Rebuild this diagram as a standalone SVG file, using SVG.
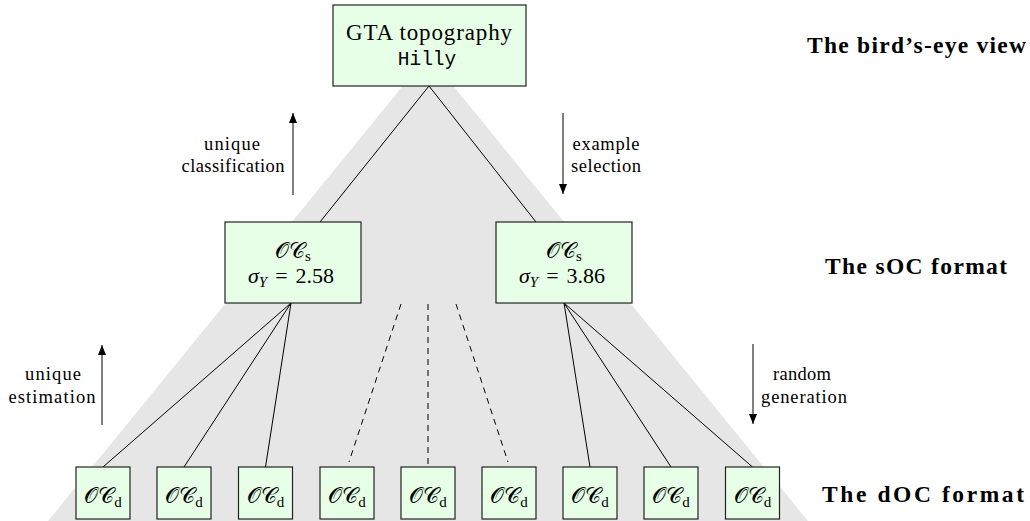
<svg xmlns="http://www.w3.org/2000/svg" width="1030" height="521" viewBox="0 0 1030 521">
<style>
.box{fill:#e6ffe6;stroke:#222;stroke-width:1.2}
.ln{stroke:#000;stroke-width:1;fill:none}
.dash{stroke:#000;stroke-width:1;fill:none;stroke-dasharray:6,5}
.lab{font-size:18.5px;text-anchor:middle;fill:#000}
.head{font-size:23.5px;font-weight:bold;fill:#000}
.m{font-size:22px;text-anchor:middle;fill:#000}
.mi{font-style:italic}
.sub{font-size:15px}
</style>
<defs>
<marker id="ah" viewBox="0 0 10 8" refX="10" refY="4" markerWidth="10" markerHeight="8" markerUnits="userSpaceOnUse" orient="auto">
<path d="M0,0 L10,4 L0,8 Z" fill="#000"/>
</marker>
</defs>
<polygon points="428,55 44,526 812,526" fill="#e6e6e6"/>
<g id="connectors">
<line class="ln" x1="429" y1="86" x2="320" y2="222"/>
<line class="ln" x1="429" y1="86" x2="536" y2="222"/>
<line class="ln" x1="291" y1="303" x2="103" y2="467"/>
<line class="ln" x1="291" y1="303" x2="184" y2="467"/>
<line class="ln" x1="291" y1="303" x2="265.5" y2="467"/>
<line class="dash" x1="401" y1="304" x2="349" y2="462"/>
<line class="dash" x1="428" y1="304" x2="428" y2="466"/>
<line class="dash" x1="456" y1="304" x2="508" y2="462"/>
<line class="ln" x1="564" y1="303" x2="590" y2="467"/>
<line class="ln" x1="564" y1="303" x2="671" y2="467"/>
<line class="ln" x1="564" y1="303" x2="752.5" y2="467"/>
</g>
<g id="arrows">
<line class="ln" x1="293" y1="195" x2="293" y2="113" marker-end="url(#ah)"/>
<line class="ln" x1="563" y1="113" x2="563" y2="194" marker-end="url(#ah)"/>
<line class="ln" x1="102" y1="425" x2="102" y2="345" marker-end="url(#ah)"/>
<line class="ln" x1="753" y1="344" x2="753" y2="424" marker-end="url(#ah)"/>
</g>
<g id="arrow-labels" font-family="Liberation Serif, serif">
<text class="lab" x="232" y="150" textLength="56" lengthAdjust="spacing">unique</text>
<text class="lab" x="233" y="172" textLength="103" lengthAdjust="spacing">classification</text>
<text class="lab" x="606" y="150" textLength="67" lengthAdjust="spacing">example</text>
<text class="lab" x="606" y="172" textLength="70" lengthAdjust="spacing">selection</text>
<text class="lab" x="53" y="380" textLength="56" lengthAdjust="spacing">unique</text>
<text class="lab" x="52" y="403" textLength="87" lengthAdjust="spacing">estimation</text>
<text class="lab" x="802" y="380" textLength="58" lengthAdjust="spacing">random</text>
<text class="lab" x="804" y="403" textLength="86" lengthAdjust="spacing">generation</text>
</g>
<g id="top">
<rect class="box" x="333" y="5" width="193" height="81"/>
<text x="429" y="40" font-family="Liberation Serif, serif" font-size="23" text-anchor="middle" textLength="166" lengthAdjust="spacing">GTA topography</text>
<text x="427" y="65" font-family="Liberation Mono, monospace" font-size="19.5" text-anchor="middle">Hilly</text>
</g>
<g id="soc-left" font-family="Liberation Serif, serif">
<rect class="box" x="225" y="222" width="136" height="81"/>
<text class="m" x="293" y="258">𝒪𝒞<tspan class="sub" dy="3">s</tspan></text>
<text class="m" x="291" y="283" font-size="23"><tspan class="mi">σ</tspan><tspan class="mi" font-size="15" dy="4">Y</tspan><tspan dy="-4" dx="8">=</tspan><tspan dx="8">2.58</tspan></text>
</g>
<g id="soc-right" font-family="Liberation Serif, serif">
<rect class="box" x="496" y="222" width="136" height="81"/>
<text class="m" x="564" y="258">𝒪𝒞<tspan class="sub" dy="3">s</tspan></text>
<text class="m" x="562" y="283" font-size="23"><tspan class="mi">σ</tspan><tspan class="mi" font-size="15" dy="4">Y</tspan><tspan dy="-4" dx="8">=</tspan><tspan dx="8">3.86</tspan></text>
</g>
<g id="docs" font-family="Liberation Serif, serif">
<g id="doc1"><rect class="box" x="76" y="467" width="54" height="52"/><text class="m" x="103" y="503">𝒪𝒞<tspan class="sub" dy="4">d</tspan></text></g>
<g id="doc2"><rect class="box" x="157" y="467" width="54" height="52"/><text class="m" x="184" y="503">𝒪𝒞<tspan class="sub" dy="4">d</tspan></text></g>
<g id="doc3"><rect class="box" x="238.5" y="467" width="54" height="52"/><text class="m" x="265.5" y="503">𝒪𝒞<tspan class="sub" dy="4">d</tspan></text></g>
<g id="doc4"><rect class="box" x="320" y="467" width="54" height="52"/><text class="m" x="347" y="503">𝒪𝒞<tspan class="sub" dy="4">d</tspan></text></g>
<g id="doc5"><rect class="box" x="401" y="467" width="54" height="52"/><text class="m" x="428" y="503">𝒪𝒞<tspan class="sub" dy="4">d</tspan></text></g>
<g id="doc6"><rect class="box" x="482" y="467" width="54" height="52"/><text class="m" x="509" y="503">𝒪𝒞<tspan class="sub" dy="4">d</tspan></text></g>
<g id="doc7"><rect class="box" x="563" y="467" width="54" height="52"/><text class="m" x="590" y="503">𝒪𝒞<tspan class="sub" dy="4">d</tspan></text></g>
<g id="doc8"><rect class="box" x="644" y="467" width="54" height="52"/><text class="m" x="671" y="503">𝒪𝒞<tspan class="sub" dy="4">d</tspan></text></g>
<g id="doc9"><rect class="box" x="725.5" y="467" width="54" height="52"/><text class="m" x="752.5" y="503">𝒪𝒞<tspan class="sub" dy="4">d</tspan></text></g>
</g>
<g id="levels" font-family="Liberation Serif, serif">
<text class="head" x="807" y="53" textLength="219" lengthAdjust="spacing">The bird’s-eye view</text>
<text class="head" x="825" y="274" textLength="182" lengthAdjust="spacing">The sOC format</text>
<text class="head" x="822" y="502" textLength="202" lengthAdjust="spacing">The dOC format</text>
</g>
</svg>
